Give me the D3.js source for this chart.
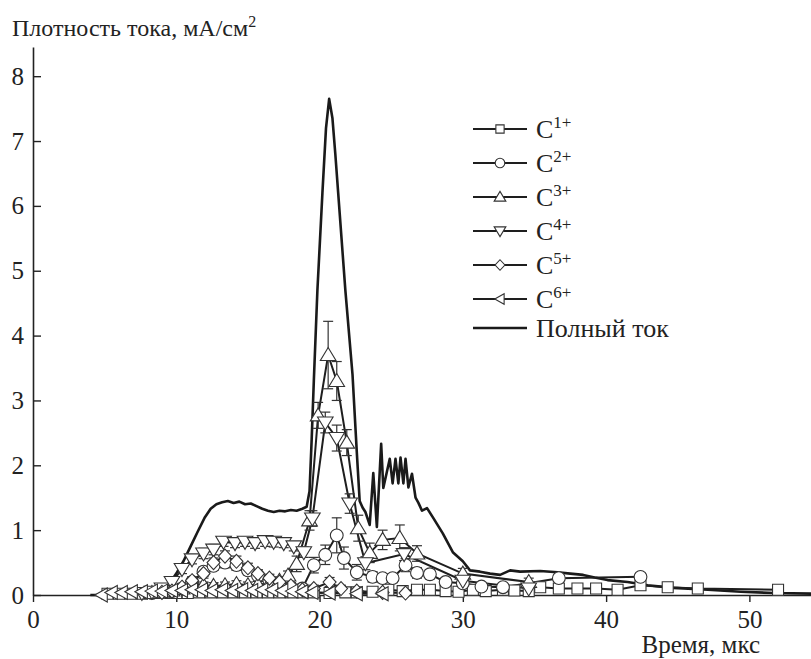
<!DOCTYPE html>
<html>
<head>
<meta charset="utf-8">
<script src="https://cdn.jsdelivr.net/npm/d3@7"></script>
<style>
  body { margin: 0; background: #fff; }
  text { font-family: "Liberation Serif", Tinos, "DejaVu Serif", "Times New Roman", serif; fill: #222; }
</style>
</head>
<body>
<div id="chart"></div>
<script>
// total current, [time, density]
let totalCurrent = [
  [4.0, 0], [7.0, 0.0], [8.0, 0.02], [8.7, 0.05], [9.2, 0.1], [9.6, 0.2], [10.0, 0.33],
  [10.5, 0.52], [11.0, 0.75], [11.5, 0.98], [12.0, 1.2], [12.4, 1.33], [12.8, 1.4],
  [13.2, 1.43], [13.6, 1.45], [14.0, 1.42], [14.4, 1.44], [14.8, 1.4], [15.2, 1.41],
  [15.6, 1.37], [16.0, 1.33], [16.4, 1.3], [16.8, 1.28], [17.2, 1.3], [17.6, 1.29],
  [18.0, 1.31], [18.4, 1.3], [18.8, 1.33], [19.1, 1.36], [19.3, 1.6], [19.45, 2.4],
  [19.6, 3.3], [19.85, 4.7], [20.2, 6.2], [20.45, 7.2], [20.67, 7.65], [20.9, 7.35],
  [21.1, 6.8], [21.3, 6.2], [21.8, 4.7], [22.3, 3.4], [22.6, 2.2], [22.8, 1.45],
  [23.0, 1.35], [23.2, 1.28], [23.5, 1.08], [23.75, 1.88], [24.0, 1.05], [24.3, 2.33],
  [24.45, 1.65], [24.7, 1.9], [24.9, 2.1], [25.1, 1.72], [25.3, 2.1], [25.5, 1.72],
  [25.65, 2.12], [25.85, 1.72], [26.0, 2.1], [26.2, 1.66], [26.45, 1.87], [26.7, 1.5],
  [26.9, 1.42], [27.15, 1.3], [27.5, 1.34], [27.9, 1.2], [28.6, 0.95], [29.3, 0.66],
  [30.0, 0.52], [30.5, 0.38], [31.2, 0.36], [31.9, 0.33], [32.6, 0.31], [33.3, 0.38],
  [34.0, 0.36], [35.4, 0.37], [36.6, 0.35], [37.5, 0.33], [38.4, 0.31], [39.2, 0.27],
  [40.1, 0.23], [41.5, 0.2], [42.9, 0.15], [44.7, 0.11], [47.1, 0.08], [49.4, 0.05],
  [51.7, 0.03], [54.5, 0.02]
];

// ion series, [time, density, error]
let c1 = [
  [5.2, 0.02, 0.03], [6.0, 0.02, 0.03], [6.8, 0.02, 0.03], [7.6, 0.02, 0.03], [8.4, 0.03, 0.04],
  [9.2, 0.03, 0.04], [10.0, 0.03, 0.04], [10.8, 0.03, 0.04], [11.6, 0.04, 0.04], [12.4, 0.04, 0.05],
  [13.2, 0.04, 0.05], [14.0, 0.04, 0.05], [14.8, 0.04, 0.05], [15.6, 0.04, 0.05], [16.4, 0.04, 0.05],
  [17.2, 0.04, 0.05], [18.0, 0.04, 0.05], [18.8, 0.04, 0.04], [19.6, 0.04, 0.04], [20.7, 0.03, 0.04],
  [21.8, 0.04, 0.04], [22.6, 0.04, 0.04], [23.7, 0.05, 0.04], [24.8, 0.08, 0.04], [25.8, 0.06, 0.04],
  [26.8, 0.08, 0.05], [27.7, 0.08, 0.05], [28.8, 0.06, 0.05], [29.7, 0.05, 0.04], [30.7, 0.08, 0.05],
  [31.6, 0.06, 0.05], [32.8, 0.08, 0.05], [33.6, 0.07, 0.05], [34.6, 0.06, 0.05], [35.4, 0.12, 0.06],
  [36.7, 0.1, 0.05], [38.0, 0.1, 0.06], [39.3, 0.1, 0.06], [40.8, 0.08, 0.05], [42.4, 0.15, 0.06],
  [44.3, 0.12, 0.05], [46.4, 0.1, 0.05], [52.0, 0.08, 0.04]
];
let c2 = [
  [8.3, 0.03, 0.03], [9.0, 0.04, 0.03], [9.7, 0.06, 0.04], [10.4, 0.1, 0.05], [11.1, 0.2, 0.06],
  [11.9, 0.36, 0.07], [12.6, 0.45, 0.07], [13.4, 0.5, 0.08], [14.2, 0.46, 0.08], [15.0, 0.38, 0.07],
  [15.7, 0.3, 0.06], [16.5, 0.22, 0.06], [17.2, 0.16, 0.05], [18.0, 0.12, 0.05], [18.8, 0.1, 0.05],
  [19.6, 0.46, 0.12], [20.4, 0.62, 0.15], [21.2, 0.92, 0.27], [21.7, 0.57, 0.17], [22.6, 0.35, 0.12],
  [23.7, 0.28, 0.08], [24.4, 0.26, 0.07], [25.1, 0.26, 0.07], [26.0, 0.46, 0.1], [26.8, 0.34, 0.08],
  [27.7, 0.32, 0.07], [28.8, 0.2, 0.06], [30.0, 0.18, 0.05], [31.3, 0.13, 0.05], [32.8, 0.12, 0.05],
  [36.7, 0.26, 0.06], [42.4, 0.28, 0.06]
];
let c3 = [
  [8.3, 0.03, 0.03], [9.0, 0.05, 0.04], [9.7, 0.07, 0.04], [10.4, 0.1, 0.05], [11.1, 0.18, 0.05],
  [11.9, 0.15, 0.05], [12.6, 0.14, 0.05], [13.4, 0.15, 0.05], [14.2, 0.17, 0.05], [15.0, 0.15, 0.05],
  [15.7, 0.16, 0.05], [16.5, 0.18, 0.06], [17.2, 0.22, 0.06], [17.8, 0.3, 0.07], [18.4, 0.48, 0.12],
  [19.3, 1.15, 0.15], [19.9, 2.77, 0.2], [20.6, 3.7, 0.52], [21.2, 3.3, 0.3], [21.9, 2.35, 0.2],
  [22.7, 1.03, 0.2], [23.5, 0.65, 0.15], [24.4, 0.85, 0.15], [25.6, 0.88, 0.2], [26.8, 0.64, 0.12],
  [30.0, 0.33, 0.08], [34.6, 0.2, 0.06]
];
let c4 = [
  [7.6, 0.03, 0.03], [8.3, 0.05, 0.04], [9.0, 0.1, 0.05], [9.7, 0.2, 0.06], [10.4, 0.4, 0.07],
  [11.1, 0.55, 0.07], [11.9, 0.64, 0.08], [12.6, 0.7, 0.08], [13.3, 0.82, 0.07], [14.1, 0.8, 0.07],
  [14.8, 0.82, 0.07], [15.5, 0.8, 0.08], [16.2, 0.83, 0.08], [16.8, 0.82, 0.08], [17.5, 0.8, 0.07],
  [18.2, 0.75, 0.07], [18.9, 0.66, 0.08], [19.5, 1.18, 0.12], [20.4, 2.66, 0.16], [21.2, 2.42, 0.2],
  [22.1, 1.41, 0.15], [23.2, 0.49, 0.1], [25.9, 0.63, 0.1], [30.0, 0.22, 0.08], [34.6, 0.1, 0.05]
];
let c5 = [
  [9.0, 0.04, 0.03], [9.7, 0.06, 0.04], [10.4, 0.12, 0.05], [11.1, 0.22, 0.06], [11.9, 0.33, 0.07],
  [12.6, 0.5, 0.07], [13.4, 0.6, 0.08], [14.2, 0.52, 0.08], [15.0, 0.42, 0.07], [15.7, 0.33, 0.06],
  [16.5, 0.26, 0.06], [17.2, 0.2, 0.06], [18.0, 0.14, 0.05], [18.8, 0.08, 0.05], [19.6, 0.1, 0.05],
  [20.7, 0.2, 0.07], [21.5, 0.1, 0.05], [22.6, 0.06, 0.04], [24.4, 0.04, 0.03], [26.0, 0.03, 0.03]
];
let c6 = [
  [4.8, 0.0, 0], [5.5, 0.04, 0.05], [6.2, 0.04, 0.05], [6.9, 0.05, 0.05], [7.6, 0.05, 0.05],
  [8.3, 0.06, 0.05], [9.0, 0.06, 0.05], [9.7, 0.07, 0.06], [10.4, 0.07, 0.06], [11.1, 0.08, 0.06],
  [11.8, 0.08, 0.06], [12.5, 0.07, 0.06], [13.2, 0.08, 0.06], [13.9, 0.07, 0.06], [14.6, 0.08, 0.06],
  [15.3, 0.07, 0.06], [16.0, 0.08, 0.06], [16.7, 0.08, 0.06], [17.4, 0.07, 0.06], [18.1, 0.06, 0.05],
  [18.8, 0.05, 0.05], [19.5, 0.04, 0.04], [20.7, 0.03, 0.04], [22.6, 0.02, 0.03], [24.4, 0.02, 0.03]
];

let seriesNames = ["1+", "2+", "3+", "4+", "5+", "6+"];
let seriesMarkers = ["square", "circle", "up", "down", "diamond", "left"];
let seriesData = [c1, c2, c3, c4, c5, c6];
let xTicks = [0, 10, 20, 30, 40, 50];
let yTicks = [0, 1, 2, 3, 4, 5, 6, 7, 8];

let w = 811;
let h = 659;
let serif = '"Liberation Serif", Tinos, "DejaVu Serif", "Times New Roman", serif';

let x = d3.scaleLinear().domain([0, 54.3]).range([33, 811]);
let y = d3.scaleLinear().domain([0, 8.45]).range([595, 47]);

let svg = d3
  .select("#chart")
  .append("svg")
  .attr("width", w)
  .attr("height", h)
  .attr("font-family", serif);

// marker shapes, k scales them down for the legend
function markerPath(type, k) {
  switch (type) {
    case "square":
      return `M${-5.5 * k},${-5.5 * k}h${11 * k}v${11 * k}h${-11 * k}Z`;
    case "circle": {
      let r = 6.4 * k;
      return `M${-r},0a${r},${r} 0 1,0 ${2 * r},0a${r},${r} 0 1,0 ${-2 * r},0Z`;
    }
    case "up":
      return `M0,${-7.5 * k}L${7.8 * k},${5.5 * k}L${-7.8 * k},${5.5 * k}Z`;
    case "down":
      return `M0,${7.5 * k}L${7.8 * k},${-5.5 * k}L${-7.8 * k},${-5.5 * k}Z`;
    case "diamond":
      return `M0,${-7 * k}L${6.5 * k},0L0,${7 * k}L${-6.5 * k},0Z`;
    case "left":
      return `M${-7 * k},0L${5.5 * k},${-7 * k}L${5.5 * k},${7 * k}Z`;
  }
}

// axes
let yAxis = svg
  .append("g")
  .attr("transform", "translate(33,0)")
  .call(d3.axisLeft(y).tickValues(yTicks).tickSizeInner(-8).tickSizeOuter(0).tickPadding(9));

let xAxis = svg
  .append("g")
  .attr("transform", "translate(0,595)")
  .call(d3.axisBottom(x).tickValues(xTicks).tickSizeInner(7).tickSizeOuter(0).tickPadding(8));

[xAxis, yAxis].forEach(function (g) {
  g.attr("font-family", serif);
  g.select(".domain").attr("stroke", "#222").attr("stroke-width", 1.6);
  g.selectAll(".tick line").attr("stroke", "#222").attr("stroke-width", 1.4);
  g.selectAll(".tick text")
    .attr("fill", "#222")
    .style("font-family", serif)
    .style("font-size", "25px");
});

// axis titles
let yTitle = svg
  .append("text")
  .attr("x", 12)
  .attr("y", 36)
  .style("font-size", "24px")
  .text("Плотность тока, мА/см");
yTitle.append("tspan").attr("dy", -9).style("font-size", "16px").text("2");

svg
  .append("text")
  .attr("x", 760)
  .attr("y", 653)
  .attr("text-anchor", "end")
  .style("font-size", "25px")
  .text("Время, мкс");

let line = d3
  .line()
  .x(function (d) { return x(d[0]); })
  .y(function (d) { return y(d[1]); });

// total current first
svg
  .append("path")
  .datum(totalCurrent)
  .attr("d", line)
  .attr("fill", "none")
  .attr("stroke", "#1a1a1a")
  .attr("stroke-width", 2.6)
  .attr("stroke-linejoin", "round");

// series lines
seriesData.forEach(function (data) {
  svg
    .append("path")
    .datum(data)
    .attr("d", line)
    .attr("fill", "none")
    .attr("stroke", "#1e1e1e")
    .attr("stroke-width", 2);
});

// error bars
seriesData.forEach(function (data) {
  let g = svg.append("g").attr("stroke", "#333").attr("stroke-width", 1.2);
  data
    .filter(function (d) { return d[2] > 0; })
    .forEach(function (d) {
      let cx = x(d[0]);
      let top = y(d[1] + d[2]);
      let bot = y(Math.max(0, d[1] - d[2]));
      g.append("line").attr("x1", cx).attr("x2", cx).attr("y1", top).attr("y2", bot);
      g.append("line").attr("x1", cx - 5).attr("x2", cx + 5).attr("y1", top).attr("y2", top);
      g.append("line").attr("x1", cx - 5).attr("x2", cx + 5).attr("y1", bot).attr("y2", bot);
    });
});

// markers
seriesData.forEach(function (data, i) {
  svg
    .append("g")
    .selectAll("path")
    .data(data)
    .enter()
    .append("path")
    .attr("transform", function (d) { return `translate(${x(d[0])},${y(d[1])})`; })
    .attr("d", markerPath(seriesMarkers[i], 1))
    .attr("fill", "#fff")
    .attr("stroke", "#333")
    .attr("stroke-width", 1.1);
});

// legend
let legend = svg.append("g");
seriesNames.forEach(function (name, i) {
  let ly = 129 + i * 34;
  legend
    .append("line")
    .attr("x1", 473).attr("x2", 527).attr("y1", ly).attr("y2", ly)
    .attr("stroke", "#1e1e1e").attr("stroke-width", 2);
  legend
    .append("path")
    .attr("transform", `translate(500,${ly})`)
    .attr("d", markerPath(seriesMarkers[i], 0.75))
    .attr("fill", "#fff")
    .attr("stroke", "#333")
    .attr("stroke-width", 1.1);
  let t = legend
    .append("text")
    .attr("x", 536)
    .attr("y", ly + 9)
    .style("font-size", "26px")
    .text("C");
  t.append("tspan").attr("dy", -10).style("font-size", "17px").text(name);
});
legend
  .append("line")
  .attr("x1", 473).attr("x2", 527).attr("y1", 328).attr("y2", 328)
  .attr("stroke", "#1a1a1a").attr("stroke-width", 2.6);
legend
  .append("text")
  .attr("x", 536)
  .attr("y", 337)
  .style("font-size", "26px")
  .text("Полный ток");
</script>
</body>
</html>
